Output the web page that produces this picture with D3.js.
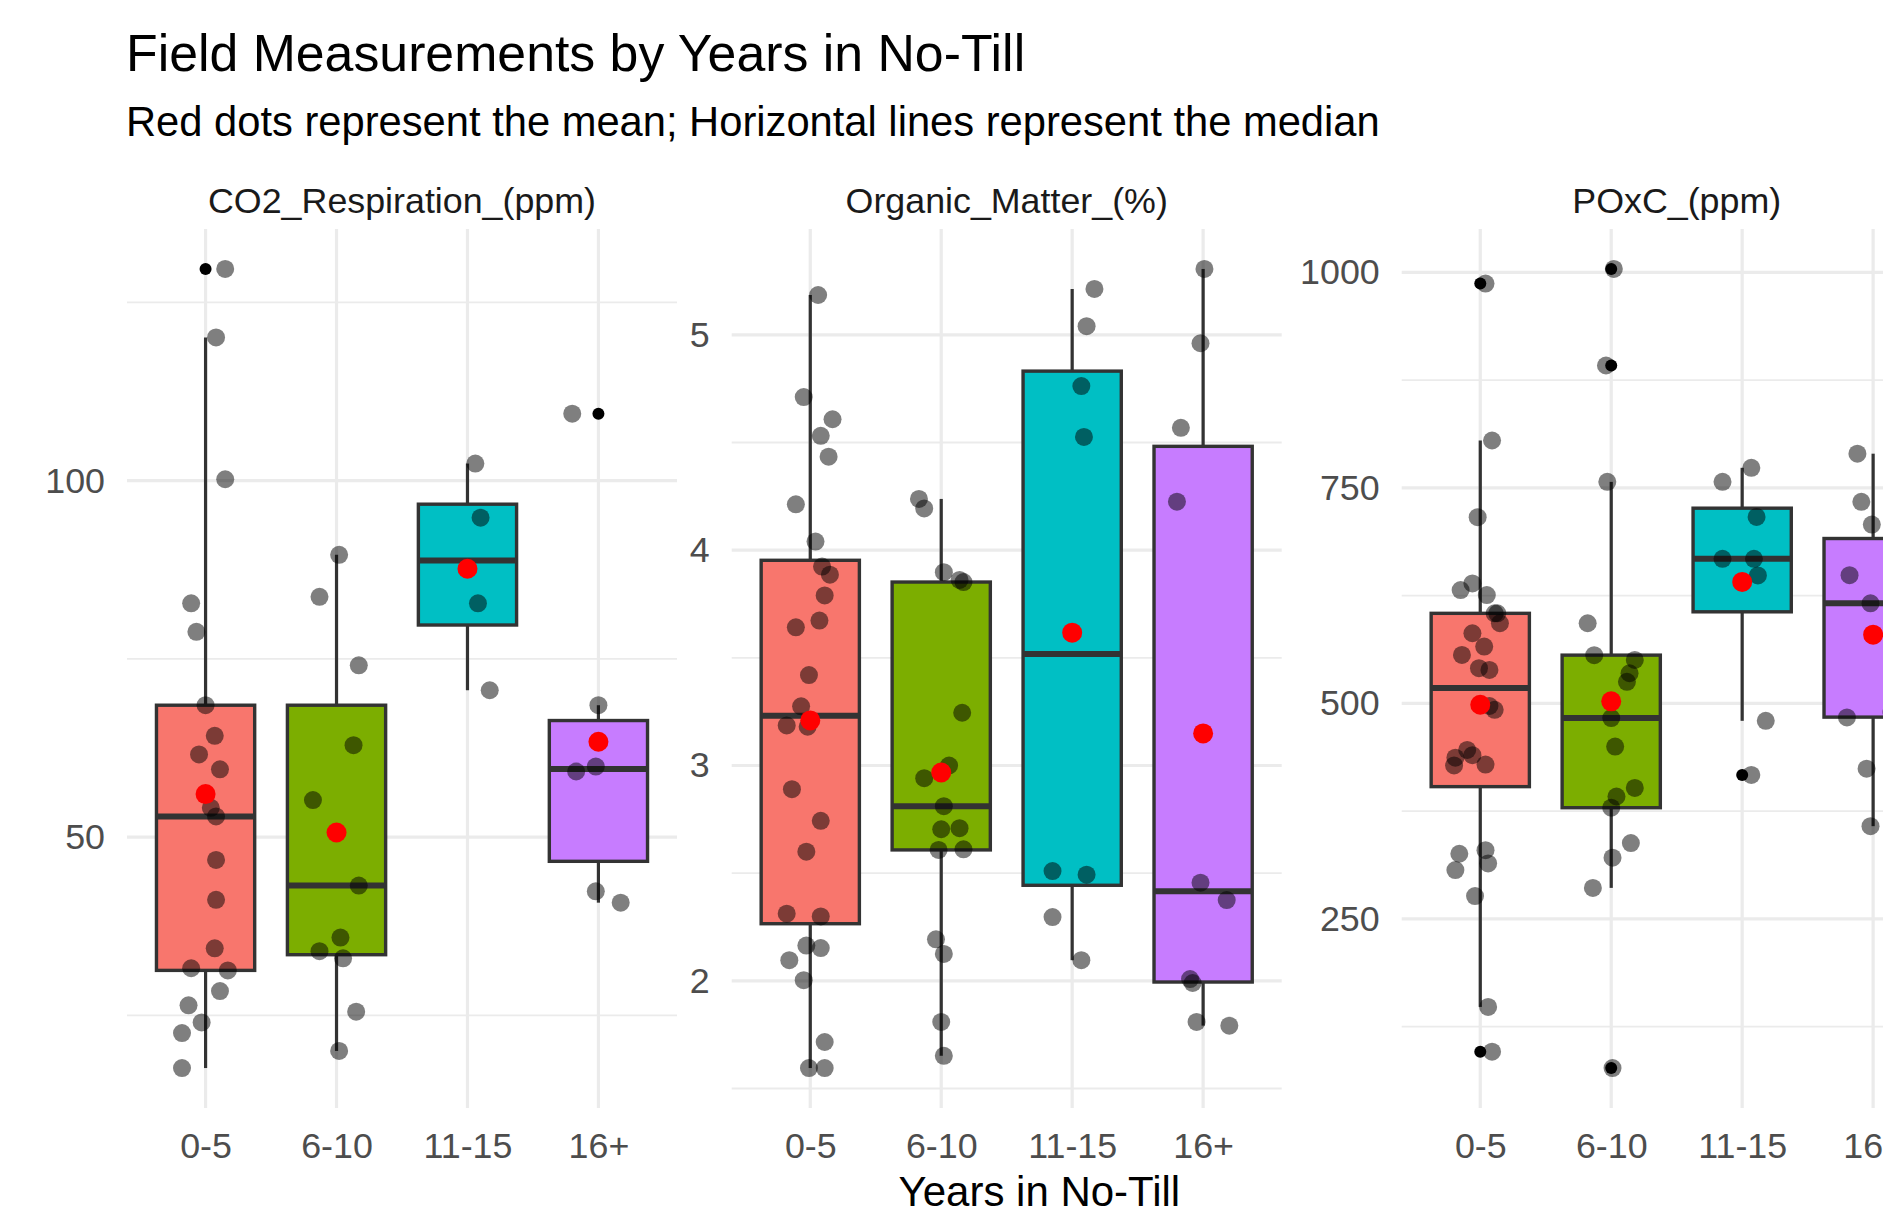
<!DOCTYPE html>
<html>
<head>
<meta charset="utf-8">
<script src="https://cdn.jsdelivr.net/npm/d3@7"></script>
<style>
  body { margin: 0; background: #fff; }
  svg { display: block; font-family: "Liberation Sans", Arial, sans-serif; }
</style>
</head>
<body>
<svg id="chart"></svg>
<script>
// Categories and their fills (ggplot default hue palette)
const groups = ['0-5', '6-10', '11-15', '16+'];
const groupColors = ['#F8766D', '#7CAE00', '#00BFC4', '#C77CFF'];

// CO2 respiration (ppm), one list per group
const co2Values = [
    [129.7, 120.1, 100.2, 82.8, 78.8, 68.5, 64.2, 61.6, 59.5, 54.1, 52.9, 46.8, 41.2, 34.4, 31.6, 31.3, 28.4, 26.4, 24.0, 22.5, 17.6],
    [89.6, 83.7, 74.1, 62.9, 55.2, 43.2, 35.9, 34.0, 33.0, 25.5, 20.0],
    [102.4, 94.8, 82.8, 70.6],
    [109.4, 68.5, 59.9, 59.2, 42.4, 40.8]
];
// horizontal jitter, in category steps
const co2Jitter = [
    [0.15, 0.08, 0.15, -0.11, -0.07, 0.0, 0.07, -0.05, 0.11, 0.04, 0.08, 0.08, 0.08, 0.07, -0.11, 0.17, 0.11, -0.13, -0.03, -0.18, -0.18],
    [0.02, -0.13, 0.17, 0.13, -0.18, 0.17, 0.03, -0.13, 0.05, 0.15, 0.02],
    [0.06, 0.10, 0.08, 0.17],
    [-0.20, 0.0, -0.02, -0.17, -0.02, 0.17]
];
const co2Ticks = [50, 100];

// Organic matter (%)
const omValues = [
    [5.185, 4.711, 4.608, 4.531, 4.434, 4.213, 4.040, 3.924, 3.886, 3.790, 3.673, 3.642, 3.420, 3.275, 3.186, 3.18, 2.890, 2.743, 2.600, 2.312, 2.299, 2.164, 2.152, 2.096, 2.003, 1.716, 1.595, 1.595],
    [4.238, 4.194, 3.898, 3.862, 3.852, 3.245, 3.0, 2.941, 2.811, 2.709, 2.704, 2.611, 2.608, 2.193, 2.125, 1.809, 1.652],
    [5.213, 5.040, 4.762, 4.526, 2.510, 2.493, 2.296, 2.096],
    [5.306, 4.961, 4.568, 4.225, 2.456, 2.375, 2.008, 1.99, 1.809, 1.792]
];
const omJitter = [
    [0.06, -0.05, 0.17, 0.08, 0.14, -0.11, 0.04, 0.09, 0.15, 0.11, 0.07, -0.11, -0.01, -0.07, -0.18, -0.02, -0.14, 0.08, -0.03, -0.18, 0.08, -0.03, 0.08, -0.16, -0.05, 0.11, -0.01, 0.11],
    [-0.17, -0.13, 0.02, 0.14, 0.17, 0.16, 0.06, -0.13, 0.02, 0.14, 0.0, 0.17, -0.02, -0.04, 0.02, 0.0, 0.02],
    [0.17, 0.11, 0.07, 0.09, -0.15, 0.11, -0.15, 0.07],
    [0.01, -0.02, -0.17, -0.20, -0.02, 0.18, -0.10, -0.08, -0.05, 0.20]
];
const omTicks = [2, 3, 4, 5];

// POxC (ppm); the last five 16+ values sit past the right edge of the picture (estimated)
const poxcValues = [
    [987, 805, 716, 639.2, 631.5, 625.7, 604.5, 604.5, 593, 581.4, 566, 556.3, 540.9, 538.9, 497, 492.6, 446, 440, 437, 429, 428, 329.8, 325.6, 314.3, 306.7, 276.5, 147.9, 96],
    [1004, 892, 757, 593, 556, 550.5, 535, 525, 483, 450, 402, 392, 379, 338, 321, 286, 77],
    [773.3, 757, 716.3, 667.8, 667.8, 648.4, 479.8, 417],
    [789.7, 733.8, 707.5, 648.8, 616.1, 483.8, 424.3, 357.6, 691.3, 625, 490, 484.5, 484.1]
];
const poxcJitter = [
    [0.04, 0.09, -0.02, -0.06, -0.15, 0.05, 0.13, 0.11, 0.15, -0.06, 0.03, -0.14, -0.01, 0.07, 0.07, 0.11, -0.10, -0.06, -0.19, 0.04, -0.20, 0.04, -0.16, 0.06, -0.19, -0.04, 0.06, 0.09],
    [0.02, -0.04, -0.03, -0.18, -0.13, 0.18, 0.14, 0.12, 0.0, 0.03, 0.18, 0.04, 0.0, 0.15, 0.01, -0.14, 0.01],
    [0.07, -0.15, 0.11, -0.15, 0.09, 0.12, 0.18, 0.07],
    [-0.12, -0.09, -0.01, -0.18, -0.02, -0.20, -0.05, -0.02, 0.17, 0.15, 0.14, 0.18, 0.16]
];
const poxcTicks = [250, 500, 750, 1000];

const panels = [
    {title: 'CO2_Respiration_(ppm)', values: co2Values, jitter: co2Jitter, ticks: co2Ticks},
    {title: 'Organic_Matter_(%)', values: omValues, jitter: omJitter, ticks: omTicks},
    {title: 'POxC_(ppm)', values: poxcValues, jitter: poxcJitter, ticks: poxcTicks}
];

const width = 1883, height = 1210;
const panelTop = 229, panelBottom = 1108, panelWidth = 550;
const panelLefts = [127, 731.7, 1401.7];
const gridColor = '#EBEBEB';
const lineColor = '#333333';
const tickFont = 35.8;

const svg = d3.select('#chart')
    .attr('width', width)
    .attr('height', height);

svg.append('rect').attr('width', width).attr('height', height).attr('fill', '#fff');

// Tukey box statistics, quantiles as R type 7 (same as d3.quantile)
function boxStats(vals) {
    const s = vals.slice().sort(d3.ascending);
    const q1 = d3.quantileSorted(s, 0.25);
    const med = d3.quantileSorted(s, 0.5);
    const q3 = d3.quantileSorted(s, 0.75);
    const iqr = q3 - q1;
    const loFence = q1 - 1.5 * iqr, hiFence = q3 + 1.5 * iqr;
    const inside = s.filter(v => v >= loFence && v <= hiFence);
    return {
        q1, med, q3,
        lo: d3.min(inside),
        hi: d3.max(inside),
        outliers: s.filter(v => v < loFence || v > hiFence),
        mean: d3.mean(s)
    };
}

panels.forEach((p, pi) => {
    const left = panelLefts[pi];
    const right = left + panelWidth;

    // discrete x with ggplot's 0.6 expansion on each side
    const x = d3.scalePoint().domain(groups).range([left, right]).padding(0.6);
    const step = x.step();

    // continuous y with 5% expansion
    const [mn, mx] = d3.extent(p.values.flat());
    const pad = (mx - mn) * 0.05;
    const y = d3.scaleLinear().domain([mn - pad, mx + pad]).range([panelBottom, panelTop]);

    const g = svg.append('g');

    // minor gridlines halfway between major ticks
    const tickStep = p.ticks[1] - p.ticks[0];
    const minor = [p.ticks[0] - tickStep / 2].concat(p.ticks.map(t => t + tickStep / 2))
        .filter(v => v > y.domain()[0] && v < y.domain()[1]);
    g.selectAll('.minor').data(minor).join('line')
        .attr('x1', left).attr('x2', right)
        .attr('y1', d => y(d)).attr('y2', d => y(d))
        .attr('stroke', gridColor).attr('stroke-width', 1.8);
    g.selectAll('.major').data(p.ticks).join('line')
        .attr('x1', left).attr('x2', right)
        .attr('y1', d => y(d)).attr('y2', d => y(d))
        .attr('stroke', gridColor).attr('stroke-width', 3.2);
    g.selectAll('.vgrid').data(groups).join('line')
        .attr('x1', d => x(d)).attr('x2', d => x(d))
        .attr('y1', panelTop).attr('y2', panelBottom)
        .attr('stroke', gridColor).attr('stroke-width', 3.2);

    // y axis labels
    const yAxis = g.append('g')
        .attr('transform', `translate(${left},0)`)
        .call(d3.axisLeft(y).tickValues(p.ticks).tickFormat(d3.format('d')).tickSize(0).tickPadding(22));
    yAxis.select('.domain').remove();
    yAxis.selectAll('text')
        .attr('font-size', tickFont).attr('fill', '#4D4D4D')
        .attr('font-family', '"Liberation Sans", Arial, sans-serif');

    // x axis labels
    const xAxis = g.append('g')
        .attr('transform', `translate(0,${panelBottom})`)
        .call(d3.axisBottom(x).tickSize(0).tickPadding(25));
    xAxis.select('.domain').remove();
    xAxis.selectAll('text')
        .attr('font-size', tickFont).attr('fill', '#4D4D4D')
        .attr('font-family', '"Liberation Sans", Arial, sans-serif');

    // strip title
    g.append('text')
        .attr('x', (left + right) / 2).attr('y', 213)
        .attr('text-anchor', 'middle')
        .attr('font-size', tickFont).attr('fill', '#1A1A1A')
        .text(p.title);

    const stats = p.values.map(boxStats);
    const boxW = step * 0.75;

    // boxplots
    groups.forEach((grp, gi) => {
        const s = stats[gi];
        const cx = x(grp);
        const bg = g.append('g');
        bg.append('line')
            .attr('x1', cx).attr('x2', cx)
            .attr('y1', y(s.q3)).attr('y2', y(s.hi))
            .attr('stroke', lineColor).attr('stroke-width', 3.2);
        bg.append('line')
            .attr('x1', cx).attr('x2', cx)
            .attr('y1', y(s.q1)).attr('y2', y(s.lo))
            .attr('stroke', lineColor).attr('stroke-width', 3.2);
        bg.append('rect')
            .attr('x', cx - boxW / 2).attr('width', boxW)
            .attr('y', y(s.q3)).attr('height', y(s.q1) - y(s.q3))
            .attr('fill', groupColors[gi])
            .attr('stroke', lineColor).attr('stroke-width', 3.4);
        bg.append('line')
            .attr('x1', cx - boxW / 2).attr('x2', cx + boxW / 2)
            .attr('y1', y(s.med)).attr('y2', y(s.med))
            .attr('stroke', lineColor).attr('stroke-width', 6);
        bg.selectAll('.outlier').data(s.outliers).join('circle')
            .attr('cx', cx).attr('cy', d => y(d)).attr('r', 6)
            .attr('fill', '#000');
    });

    // jittered observations
    groups.forEach((grp, gi) => {
        const pts = p.values[gi].map((v, i) => ({v, dx: p.jitter[gi][i]}));
        g.append('g').selectAll('circle').data(pts).join('circle')
            .attr('cx', d => x(grp) + d.dx * step)
            .attr('cy', d => y(d.v))
            .attr('r', 9)
            .attr('fill', '#000')
            .attr('fill-opacity', 0.5);
    });

    // means
    g.append('g').selectAll('circle').data(groups).join('circle')
        .attr('cx', d => x(d))
        .attr('cy', (d, i) => y(stats[i].mean))
        .attr('r', 10)
        .attr('fill', '#FF0000');
});

// titles
svg.append('text')
    .attr('x', 126).attr('y', 71)
    .attr('font-size', 51.8).attr('fill', '#000')
    .text('Field Measurements by Years in No-Till');
svg.append('text')
    .attr('x', 126).attr('y', 136)
    .attr('font-size', 41.7).attr('fill', '#000')
    .text('Red dots represent the mean; Horizontal lines represent the median');
svg.append('text')
    .attr('x', (panelLefts[0] + panelLefts[2] + panelWidth) / 2).attr('y', 1206)
    .attr('text-anchor', 'middle')
    .attr('font-size', 42).attr('fill', '#000')
    .text('Years in No-Till');
</script>
</body>
</html>
